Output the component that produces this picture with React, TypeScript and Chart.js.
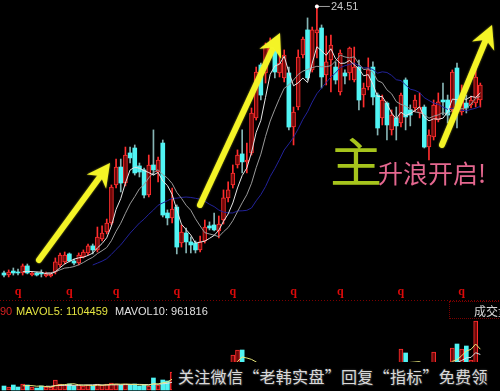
import React, { useEffect, useRef } from "react";
import { Chart, registerables } from "chart.js";

Chart.register(...registerables);

// ---- daily candles (price) ----
const opens = [
  7.76, 7.63, 7.88, 7.82, 7.76, 8.2, 7.63, 7.76, 7.76, 7.57,
  7.57, 7.82, 8.26, 8.45, 8.95, 8.51, 8.38, 8.76, 9.01, 9.45,
  9.2, 9.88, 10.32, 10.88, 13.26, 14.38, 13.38, 15.26, 15.57, 14.45,
  14.2, 12.63, 14.51, 14.07, 15.88, 11.51, 11.2, 11.88, 9.63, 10.26,
  9.7, 9.63, 9.2, 9.76, 10.7, 10.76, 10.38, 11.07, 12.45, 13.26,
  14.51, 15.2, 14.7, 15.26, 17.45, 20.76, 20.26, 21.38, 21.82, 20.26,
  19.95, 20.26, 16.88, 18.13, 21.38, 22.95, 20.45, 22.76, 23.07, 20.13,
  21.07, 20.63, 19.07, 20.26, 20.26, 19.82, 20.63, 18.88, 19.38, 20.63,
  18.88, 17.45, 18.38, 16.7, 17.45, 17.13, 19.82, 17.95, 18.07, 17.76,
  18.13, 15.63, 16.26, 17.32, 18.57, 18.57, 17.95, 20.57, 17.82, 18.38,
  18.26, 18.38, 18.57,
];
const highs = [
  7.88, 7.95, 8.07, 8.01, 8.32, 8.32, 7.82, 7.82, 7.95, 7.82,
  7.76, 8.7, 9.01, 9.07, 9.01, 8.63, 9.01, 9.2, 9.57, 9.57,
  10.63, 10.7, 11.13, 13.26, 14.88, 14.88, 15.63, 15.63, 15.76, 14.63,
  14.32, 15.13, 16.7, 15.01, 16.07, 11.7, 13.07, 12.01, 10.76, 10.57,
  10.01, 9.76, 10.07, 11.07, 10.95, 11.51, 11.32, 12.95, 13.45, 14.51,
  15.45, 16.7, 15.88, 18.07, 20.63, 20.88, 22.13, 22.45, 22.01, 21.7,
  21.7, 20.63, 18.13, 21.7, 22.51, 23.7, 23.13, 24.51, 23.26, 22.57,
  22.63, 20.95, 21.7, 20.45, 21.88, 21.88, 21.07, 19.63, 21.2, 20.95,
  19.01, 18.88, 18.45, 17.95, 18.13, 19.01, 19.95, 18.26, 18.88, 19.01,
  18.26, 16.7, 18.57, 19.01, 19.63, 18.88, 20.45, 20.88, 19.51, 18.88,
  18.82, 20.63, 19.63,
];
const lows = [
  7.51, 7.51, 7.63, 7.63, 7.63, 7.7, 7.57, 7.57, 7.51, 7.51,
  7.51, 7.7, 8.13, 8.32, 8.45, 8.26, 8.26, 8.7, 8.88, 8.95,
  9.07, 9.76, 10.2, 10.76, 13.07, 12.82, 13.2, 14.63, 13.88, 13.76,
  12.45, 12.51, 13.88, 13.45, 11.26, 10.76, 10.88, 8.95, 9.38, 9.01,
  9.01, 9.01, 9.07, 9.63, 10.45, 10.38, 9.95, 10.82, 12.2, 13.07,
  14.32, 14.01, 14.01, 15.13, 17.32, 18.57, 19.63, 21.2, 19.95, 20.01,
  19.7, 16.7, 15.76, 17.95, 21.2, 19.82, 20.32, 21.2, 19.32, 19.51,
  19.07, 19.57, 18.88, 19.57, 19.82, 19.7, 17.95, 18.13, 19.2, 18.26,
  16.38, 17.01, 16.07, 16.38, 16.07, 16.88, 16.7, 16.95, 17.82, 17.45,
  15.57, 14.82, 16.07, 17.2, 17.63, 17.13, 17.82, 16.82, 17.63, 17.76,
  18.07, 18.13, 18.13,
];
const closes = [
  7.63, 7.82, 7.76, 7.76, 8.2, 7.76, 7.76, 7.63, 7.7, 7.7,
  7.7, 8.45, 8.88, 8.88, 8.51, 8.38, 8.88, 9.07, 9.45, 9.2,
  10.01, 10.26, 10.88, 13.13, 14.38, 13.38, 15.13, 14.95, 14.01, 14.07,
  12.63, 14.51, 14.2, 14.82, 11.38, 11.2, 11.76, 9.38, 10.32, 9.7,
  9.51, 9.2, 9.7, 10.63, 10.57, 10.45, 10.82, 12.45, 12.95, 14.01,
  15.13, 14.7, 14.82, 17.76, 20.32, 18.88, 21.88, 22.07, 20.32, 20.88,
  21.38, 16.88, 17.82, 21.26, 22.38, 19.95, 22.95, 22.95, 20.01, 20.95,
  22.01, 19.82, 21.51, 20.07, 21.82, 20.63, 18.57, 19.32, 20.45, 18.76,
  16.82, 18.57, 17.01, 17.63, 16.95, 18.88, 17.51, 17.63, 18.57, 18.13,
  15.63, 16.38, 18.26, 18.45, 18.45, 17.63, 20.32, 18.13, 18.88, 18.07,
  18.57, 20.01, 19.51,
];
// ---- daily volume (shares) ----
const volumes = [
  108000, 81000, 135000, 81000, 162000, 135000, 81000, 54000, 108000, 81000,
  81000, 271000, 162000, 135000, 162000, 108000, 135000, 108000, 135000, 108000,
  162000, 135000, 162000, 189000, 162000, 135000, 162000, 135000, 162000, 108000,
  135000, 108000, 325000, 135000, 271000, 244000, 487000, 541000, 596000, 487000,
  406000, 406000, 487000, 596000, 406000, 406000, 487000, 677000, 677000, 947000,
  1083000, 1083000, 541000, 487000, 596000, 541000, 677000, 596000, 650000, 541000,
  596000, 704000, 650000, 704000, 650000, 731000, 677000, 731000, 704000, 596000,
  541000, 487000, 596000, 487000, 541000, 487000, 596000, 487000, 487000, 541000,
  650000, 487000, 541000, 487000, 433000, 1110000, 1002000, 704000, 541000, 487000,
  677000, 596000, 1029000, 568000, 541000, 596000, 1137000, 1245000, 1110000, 1191000,
  812000, 1868000, 541000,
];

// signal markers ("q") under these candles
const signalIndex = [3, 14, 24, 37, 49, 62, 72, 85, 98];
// annotation arrows: [candle index, price]
const arrowFrom = [[7.49, 8.57], [41.97, 12.01], [93.79, 15.76]];
const arrowTo = [[22.7, 14.63], [59.1, 22.76], [104.5, 23.26]];

const volLabel = "90";
const mavol5Label = "MAVOL5: 1104459";
const mavol10Label = "MAVOL10: 961816";
const panelTitle = "成交量";
const bigWord = "主";
const slogan = "升浪开启!";
const watermark = "关注微信“老韩实盘”回复“指标”免费领";

function sma(values: number[], n: number): (number | null)[] {
  return values.map((_, i) => {
    if (i < n - 1) return null;
    let s = 0;
    for (let k = i - n + 1; k <= i; k++) s += values[k];
    return s / n;
  });
}

export default function App() {
  const ref = useRef<HTMLCanvasElement>(null);

  useEffect(() => {
    document.body.style.background = "#000";
    const canvas = ref.current!;
    const idx = closes.map((_, i) => i);
    const isUp = (i: number) => closes[i] >= opens[i];
    const upIdx = idx.filter(isUp);
    const dnIdx = idx.filter((i) => !isUp(i));
    const ma5 = sma(closes, 5);
    const ma10 = sma(closes, 10);
    const ma20 = sma(closes, 20);
    const mv5 = sma(volumes, 5);
    const mv10 = sma(volumes, 10);

    const overlay = {
      id: "overlay",
      beforeDatasetsDraw(chart: any) {
        const ctx = chart.ctx;
        ctx.save();
        ctx.strokeStyle = "#7a0000";
        ctx.lineWidth = 1;
        ctx.setLineDash([1, 2]);
        ctx.beginPath();
        ctx.moveTo(0, 300.5);
        ctx.lineTo(500, 300.5);
        ctx.stroke();
        ctx.restore();
      },
      afterDatasetsDraw(chart: any) {
        const ctx = chart.ctx;
        const xs = chart.scales.x;
        const ys = chart.scales.y;
        ctx.save();
        // signal markers
        ctx.font = 'bold 12px "Liberation Serif"';
        ctx.fillStyle = "#dc0a0a";
        ctx.textAlign = "center";
        ctx.textBaseline = "alphabetic";
        signalIndex.forEach((i) => ctx.fillText("q", xs.getPixelForValue(i), 295));
        // highest price label
        let hi = 0;
        highs.forEach((h, i) => {
          if (h > highs[hi]) hi = i;
        });
        const hx = xs.getPixelForValue(hi);
        const hy = ys.getPixelForValue(highs[hi]) + 1;
        ctx.strokeStyle = "#a0a0a0";
        ctx.lineWidth = 1;
        ctx.beginPath();
        ctx.moveTo(hx, hy + 0.5);
        ctx.lineTo(hx + 13, hy + 0.5);
        ctx.stroke();
        ctx.fillStyle = "#ffffff";
        ctx.beginPath();
        ctx.arc(hx, hy + 0.5, 2, 0, Math.PI * 2);
        ctx.fill();
        ctx.font = '11px "Liberation Sans"';
        ctx.fillStyle = "#c8c8c8";
        ctx.textAlign = "left";
        ctx.textBaseline = "middle";
        ctx.fillText(highs[hi].toFixed(2), hx + 14, hy + 1);
        // arrows
        const color = "#f4f426";
        arrowFrom.forEach((f, k) => {
          const t = arrowTo[k];
          const x0 = xs.getPixelForValue(f[0]);
          const y0 = ys.getPixelForValue(f[1]);
          const x1 = xs.getPixelForValue(t[0]);
          const y1 = ys.getPixelForValue(t[1]);
          const dx = x1 - x0;
          const dy = y1 - y0;
          const len = Math.hypot(dx, dy);
          const ux = dx / len;
          const uy = dy / len;
          const nx = -uy;
          const ny = ux;
          const L = 23;
          const W = 12;
          const notch = 7;
          const bx = x1 - ux * L;
          const by = y1 - uy * L;
          const mx = x1 - ux * (L - notch);
          const my = y1 - uy * (L - notch);
          ctx.shadowColor = "rgba(255,255,60,0.6)";
          ctx.shadowBlur = 2;
          ctx.strokeStyle = color;
          ctx.lineWidth = 6;
          ctx.lineCap = "round";
          ctx.beginPath();
          ctx.moveTo(x0, y0);
          ctx.lineTo(mx, my);
          ctx.stroke();
          ctx.fillStyle = color;
          ctx.beginPath();
          ctx.moveTo(x1, y1);
          ctx.lineTo(bx + nx * W, by + ny * W);
          ctx.lineTo(mx, my);
          ctx.lineTo(bx - nx * W, by - ny * W);
          ctx.closePath();
          ctx.fill();
        });
        ctx.restore();
      },
    };

    const chart = new Chart(canvas, {
      type: "bar",
      data: {
        datasets: [
          {
            type: "line",
            label: "MA5",
            data: idx.map((i) => ({ x: i, y: ma5[i] })),
            borderColor: "#e6e6e6",
            borderWidth: 1,
            pointRadius: 0,
            yAxisID: "y",
            order: 1,
          } as any,
          {
            type: "line",
            label: "MA10",
            data: idx.map((i) => ({ x: i, y: ma10[i] })),
            borderColor: "#9a9a9a",
            borderWidth: 1,
            pointRadius: 0,
            yAxisID: "y",
            order: 1,
          },
          {
            type: "line",
            label: "MA20",
            data: idx.map((i) => ({ x: i, y: ma20[i] })),
            borderColor: "#22229a",
            borderWidth: 1,
            pointRadius: 0,
            yAxisID: "y",
            order: 1,
          },
          {
            label: "bodyUp",
            data: upIdx.map((i) => ({ x: i, y: [opens[i], closes[i]] })),
            backgroundColor: "#6e0808",
            borderColor: "#ff2e2e",
            borderWidth: 1,
            borderSkipped: false,
            barThickness: 4,
            minBarLength: 1,
            grouped: false,
            yAxisID: "y",
            order: 3,
          },
          {
            label: "bodyDown",
            data: dnIdx.map((i) => ({ x: i, y: [opens[i], closes[i]] })),
            backgroundColor: "#50f4f4",
            borderWidth: 0,
            barThickness: 4,
            minBarLength: 1,
            grouped: false,
            yAxisID: "y",
            order: 3,
          },
          {
            label: "wickUp",
            data: upIdx.map((i) => ({ x: i, y: [lows[i], highs[i]] })),
            backgroundColor: "#ff2e2e",
            borderWidth: 0,
            barThickness: 1,
            grouped: false,
            yAxisID: "y",
            order: 4,
          },
          {
            label: "wickDown",
            data: dnIdx.map((i) => ({ x: i, y: [lows[i], highs[i]] })),
            backgroundColor: "#86b4b4",
            borderWidth: 0,
            barThickness: 1,
            grouped: false,
            yAxisID: "y",
            order: 4,
          },
          {
            label: "volUp",
            data: upIdx.map((i) => ({ x: i, y: volumes[i] })),
            backgroundColor: "#6e0808",
            borderColor: "#ff2e2e",
            borderWidth: 1,
            borderSkipped: false,
            barThickness: 4,
            grouped: false,
            yAxisID: "yv",
            order: 3,
          },
          {
            label: "volDown",
            data: dnIdx.map((i) => ({ x: i, y: volumes[i] })),
            backgroundColor: "#50f4f4",
            borderWidth: 0,
            barThickness: 4,
            grouped: false,
            yAxisID: "yv",
            order: 3,
          },
          {
            type: "line",
            label: "MAVOL5",
            data: idx.map((i) => ({ x: i, y: mv5[i] })),
            borderColor: "#e8e87a",
            borderWidth: 1,
            pointRadius: 0,
            yAxisID: "yv",
            order: 1,
          },
          {
            type: "line",
            label: "MAVOL10",
            data: idx.map((i) => ({ x: i, y: mv10[i] })),
            borderColor: "#e0e0e0",
            borderWidth: 1,
            pointRadius: 0,
            yAxisID: "yv",
            order: 1,
          },
        ] as any,
      },
      options: {
        responsive: false,
        animation: false,
        events: [],
        layout: { padding: 0 },
        plugins: { legend: { display: false }, tooltip: { enabled: false } },
        scales: {
          x: { type: "linear", min: -0.8565, max: 106.21, offset: false, display: false },
          y: { type: "linear", min: 0.3825, max: 24.82, display: false },
          yv: { type: "linear", min: -27070, max: 10557300, display: false },
        },
      } as any,
      plugins: [overlay],
    });
    return () => chart.destroy();
  }, []);

  const abs = (s: React.CSSProperties): React.CSSProperties => ({
    position: "absolute",
    whiteSpace: "pre",
    margin: 0,
    ...s,
  });

  return (
    <div
      style={{
        position: "fixed",
        left: 0,
        top: 0,
        width: 500,
        height: 391,
        background: "#000",
        overflow: "hidden",
      }}
    >
      <canvas
        ref={ref}
        width={500}
        height={391}
        style={{ position: "absolute", left: 0, top: 0, display: "block" }}
      />
      <div style={abs({ left: 0, top: 306, font: '11px/11px "Liberation Sans"', color: "#d42020" })}>{volLabel}</div>
      <div style={abs({ left: 16, top: 306, font: '11px/11px "Liberation Sans"', color: "#e4e440" })}>{mavol5Label}</div>
      <div style={abs({ left: 115, top: 306, font: '11px/11px "Liberation Sans"', color: "#e0e0e0" })}>{mavol10Label}</div>
      <div
        style={abs({
          left: 449,
          top: 301,
          width: 70,
          height: 18,
          border: "1px dotted #7a0000",
          boxSizing: "border-box",
        })}
      />
      <div style={abs({ left: 474, top: 305, font: '12px/12px "Noto Sans CJK SC"', color: "#d8d8d8" })}>{panelTitle}</div>
      <div style={abs({ left: 330, top: 134, font: '52px/52px "Noto Sans CJK SC"', color: "#a6c41c" })}>{bigWord}</div>
      <div style={abs({ left: 378, top: 160, font: '25px/25px "Noto Sans CJK SC"', color: "#e4678f" })}>{slogan}</div>
      <div style={abs({ left: 172, top: 362, width: 328, height: 29, background: "#000" })} />
      <div
        style={abs({
          left: 178,
          top: 368,
          font: '16px/16px "Noto Sans CJK SC"',
          color: "#dadada",
          letterSpacing: "0.3px",
          textShadow: "0 0 2px #555, 1px 1px 1px #222",
        })}
      >
        {watermark}
      </div>
    </div>
  );
}
